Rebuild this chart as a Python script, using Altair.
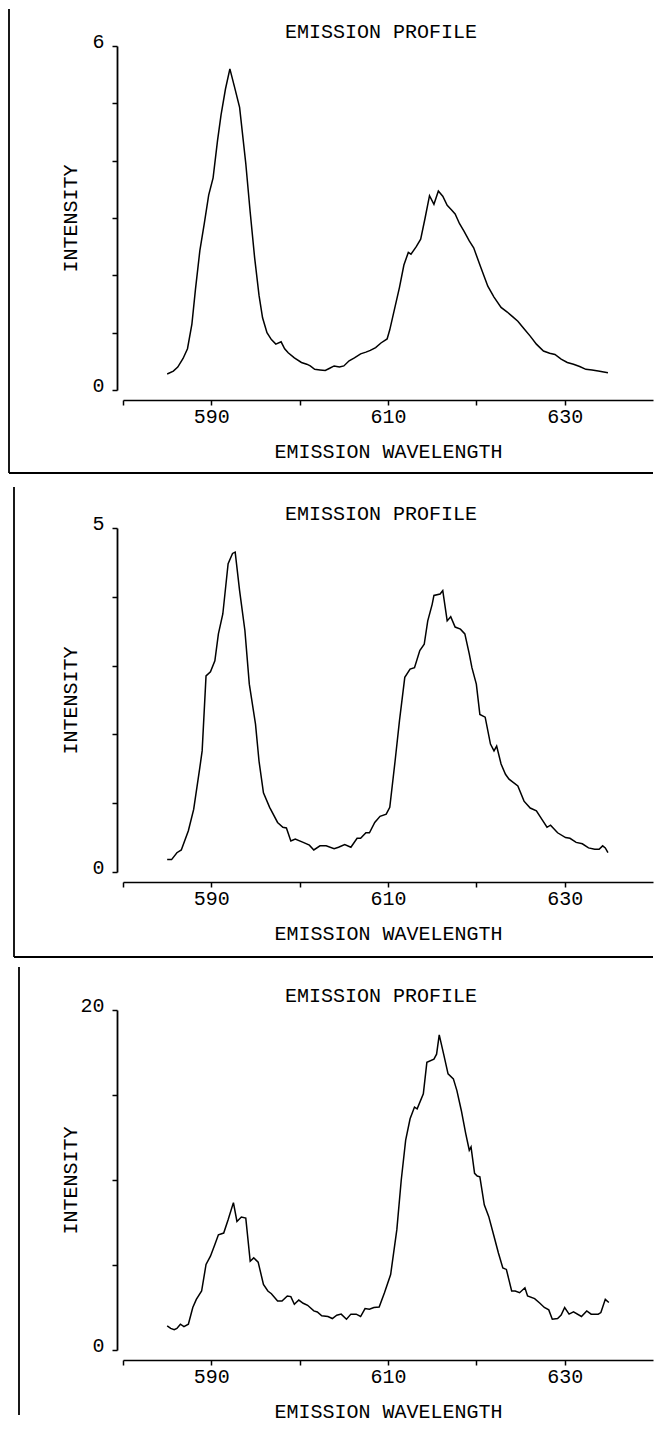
import altair as alt
import pandas as pd

FONT = "Liberation Mono"
FS = 20

TITLE = "EMISSION PROFILE"
X_TITLE = "EMISSION WAVELENGTH"
Y_TITLE = "INTENSITY"
X_TICKS = [580, 590, 600, 610, 620, 630]
X_LABELS = [590, 610, 630]

# ---- panel 1 ----
wl1 = [585.0, 585.7, 586.2, 586.8, 587.3, 587.8, 588.2, 588.7, 589.2, 589.7, 590.2, 590.7,
       591.1, 591.6, 592.1, 592.6, 593.2, 593.9, 594.4, 594.9, 595.4, 595.8, 596.3, 596.8,
       597.3, 597.9, 598.3, 598.7, 599.4, 600.2, 600.8, 601.2, 601.7, 602.3, 602.9, 603.4,
       603.9, 604.5, 605.0, 605.6, 606.2, 606.9, 607.5, 608.0, 608.6, 609.2, 609.9, 610.2,
       610.6, 611.3, 611.8, 612.3, 612.6, 613.2, 613.7, 614.2, 614.7, 615.2, 615.7, 616.2,
       616.7, 617.2, 617.6, 618.1, 618.6, 619.2, 619.7, 620.5, 621.3, 622.0, 622.8, 623.5,
       624.1, 624.7, 625.4, 626.1, 626.8, 627.6, 628.3, 628.9, 629.6, 630.3, 631.0, 631.7,
       632.4, 633.1, 633.8, 634.9]
int1 = [0.28, 0.33, 0.40, 0.55, 0.72, 1.15, 1.75, 2.43, 2.90, 3.40, 3.70, 4.35,
        4.80, 5.25, 5.60, 5.30, 4.93, 3.95, 3.10, 2.31, 1.65, 1.26, 1.00, 0.88,
        0.80, 0.84, 0.72, 0.65, 0.56, 0.48, 0.45, 0.42, 0.36, 0.35, 0.34, 0.38,
        0.42, 0.40, 0.42, 0.51, 0.56, 0.63, 0.66, 0.69, 0.74, 0.82, 0.89, 1.05,
        1.32, 1.79, 2.18, 2.40, 2.37, 2.50, 2.63, 3.00, 3.39, 3.24, 3.47, 3.38,
        3.22, 3.14, 3.07, 2.90, 2.77, 2.60, 2.48, 2.14, 1.81, 1.62, 1.44, 1.36,
        1.28, 1.20, 1.07, 0.94, 0.80, 0.68, 0.64, 0.62, 0.54, 0.48, 0.45, 0.41,
        0.36, 0.35, 0.33, 0.30]

# ---- panel 2 ----
wl2 = [585.0, 585.5, 586.1, 586.6, 587.4, 588.0, 588.7, 588.96, 589.4, 589.9, 590.4, 590.8,
       591.3, 591.9, 592.4, 592.7, 593.2, 593.8, 594.3, 595.0, 595.4, 595.9, 596.6, 597.5,
       598.1, 598.5, 599.0, 599.5, 600.4, 601.1, 601.6, 602.3, 603.0, 603.9, 604.4, 605.1,
       605.8, 606.5, 606.9, 607.5, 607.9, 608.5, 609.1, 609.8, 610.2, 610.8, 611.3, 611.9,
       612.5, 613.0, 613.6, 614.1, 614.5, 615.0, 615.2, 615.9, 616.2, 616.7, 617.1, 617.6,
       618.2, 618.7, 619.2, 619.5, 620.0, 620.4, 621.0, 621.6, 622.0, 622.3, 622.8, 623.3,
       623.7, 624.7, 625.4, 626.1, 626.8, 627.5, 628.0, 628.4, 629.2, 630.1, 630.6, 631.3,
       632.0, 632.7, 633.4, 633.9, 634.3, 634.6, 634.9]
int2 = [0.18, 0.18, 0.28, 0.32, 0.60, 0.91, 1.52, 1.76, 2.85, 2.91, 3.07, 3.46,
        3.75, 4.48, 4.63, 4.65, 4.09, 3.51, 2.73, 2.15, 1.61, 1.15, 0.94, 0.72,
        0.65, 0.64, 0.45, 0.48, 0.43, 0.39, 0.32, 0.38, 0.38, 0.34, 0.36, 0.40,
        0.36, 0.49, 0.49, 0.57, 0.57, 0.72, 0.81, 0.84, 0.94, 1.61, 2.20, 2.83,
        2.95, 2.97, 3.22, 3.31, 3.65, 3.89, 4.02, 4.04, 4.09, 3.65, 3.71, 3.56,
        3.53, 3.46, 3.17, 2.97, 2.73, 2.29, 2.25, 1.86, 1.76, 1.83, 1.57, 1.42,
        1.35, 1.25, 1.03, 0.93, 0.89, 0.75, 0.65, 0.68, 0.57, 0.50, 0.49, 0.43,
        0.41, 0.35, 0.33, 0.33, 0.38, 0.35, 0.28]

# ---- panel 3 ----
wl3 = [585.0, 585.4, 585.8, 586.1, 586.5, 586.9, 587.4, 587.9, 588.3, 588.9, 589.4, 589.9,
       590.4, 590.8, 591.4, 591.9, 592.5, 592.9, 593.4, 593.9, 594.4, 594.8, 595.3, 595.9,
       596.4, 596.8, 597.5, 598.0, 598.6, 599.0, 599.4, 599.9, 600.4, 600.9, 601.6, 602.0,
       602.5, 603.2, 603.7, 604.2, 604.7, 605.3, 605.8, 606.4, 606.9, 607.4, 607.9, 608.4,
       609.0, 609.6, 610.3, 611.0, 611.5, 612.0, 612.5, 613.0, 613.3, 614.0, 614.4, 615.2,
       615.5, 615.8, 616.3, 616.8, 617.4, 617.8, 618.3, 618.8, 619.2, 619.4, 619.8, 620.1,
       620.4, 620.9, 621.4, 622.0, 622.5, 623.0, 623.4, 624.0, 624.4, 624.9, 625.5, 625.8,
       626.6, 627.2, 627.7, 628.2, 628.6, 629.2, 629.6, 630.0, 630.5, 631.0, 631.9, 632.5,
       633.0, 633.8, 634.1, 634.6, 635.0]
int3 = [1.42, 1.27, 1.19, 1.27, 1.52, 1.38, 1.52, 2.50, 2.98, 3.47, 5.03, 5.52,
        6.20, 6.78, 6.88, 7.66, 8.67, 7.56, 7.82, 7.76, 5.22, 5.42, 5.17, 3.86,
        3.47, 3.31, 2.88, 2.88, 3.18, 3.14, 2.69, 2.94, 2.75, 2.63, 2.30, 2.24,
        2.01, 1.97, 1.85, 2.05, 2.11, 1.81, 2.11, 2.11, 1.97, 2.44, 2.40, 2.50,
        2.53, 3.37, 4.44, 7.08, 10.0, 12.34, 13.6, 14.29, 14.19, 15.07, 16.92, 17.11,
        17.4, 18.54, 17.4, 16.24, 15.95, 15.26, 14.09, 12.73, 11.75, 11.95, 10.39, 10.23,
        10.19, 8.54, 7.86, 6.69, 5.71, 4.83, 4.74, 3.47, 3.47, 3.37, 3.66, 3.18,
        3.02, 2.75, 2.50, 2.36, 1.81, 1.85, 2.05, 2.50, 2.11, 2.24, 1.97, 2.30,
        2.11, 2.11, 2.20, 2.98, 2.79]

W = 530


def panel(wl, vals, ymax, ystep, height, fl, ft, fb, bottom=True):
    df = pd.DataFrame({"wl": wl, "v": vals})
    xlab = "||".join(f"datum.value=={v}" for v in X_LABELS)
    x_axis = alt.Axis(
        values=X_TICKS, labelExpr=f"({xlab}) ? datum.label : ''",
        title=X_TITLE, offset=10, grid=False,
        tickSize=5, tickWidth=1.5, tickColor="black",
        domainWidth=1.6, domainColor="black",
        labelFont=FONT, labelFontSize=FS, labelColor="black", labelPadding=1,
        titleFont=FONT, titleFontSize=FS, titleFontWeight="normal", titleColor="black",
        titleY=51, titleBaseline="middle",
    )
    y_axis = alt.Axis(
        values=list(range(0, ymax + 1, ystep)),
        labelExpr=f"(datum.value==0||datum.value=={ymax}) ? datum.label : ''",
        title=Y_TITLE, offset=6, grid=False,
        tickSize=5, tickWidth=1.5, tickColor="black",
        domainWidth=1.8, domainColor="black",
        labelFont=FONT, labelFontSize=FS, labelColor="black", labelPadding=8, labelOffset=-5,
        titleFont=FONT, titleFontSize=FS, titleFontWeight="normal", titleColor="black",
        titleX=-47, titleY=height / 2, titleAngle=270, titleBaseline="middle", titleAlign="center",
    )
    line = alt.Chart(df).mark_line(color="black", strokeWidth=1.5).encode(
        x=alt.X("wl:Q", scale=alt.Scale(domain=[580, 640], nice=False, zero=False), axis=x_axis),
        y=alt.Y("v:Q", scale=alt.Scale(domain=[0, ymax], nice=False), axis=y_axis),
    )
    one = pd.DataFrame({"k": [0]})
    left = alt.Chart(one).mark_rule(color="black", strokeWidth=1.8).encode(
        x=alt.value(fl), y=alt.value(ft), y2=alt.value(fb))
    title = alt.Chart(one).mark_text(
        font=FONT, fontSize=FS, color="black", align="center", baseline="middle"
    ).encode(x=alt.value(W / 2 - 7), y=alt.value(-14), text=alt.value(TITLE))
    layers = [line, left, title]
    if bottom:
        bot = alt.Chart(one).mark_rule(color="black", strokeWidth=1.8).encode(
            x=alt.value(fl), x2=alt.value(W), y=alt.value(fb))
        layers.append(bot)
    return alt.layer(*layers).properties(width=W, height=height)


p1 = panel(wl1, int1, 6, 1, 344, -114, -37, 427)
p2 = panel(wl2, int2, 5, 1, 344, -109, -41, 429)
p3 = panel(wl3, int3, 20, 5, 340, -104, -43, 405, bottom=False)

chart = alt.vconcat(p1, p2, p3, spacing=138, bounds="flush").properties(
    padding={"left": 0, "top": 0, "right": 0, "bottom": 4}, background="white"
).configure_view(stroke=None)

chart.save("out.html", embed_options={"renderer": "svg", "actions": False})
